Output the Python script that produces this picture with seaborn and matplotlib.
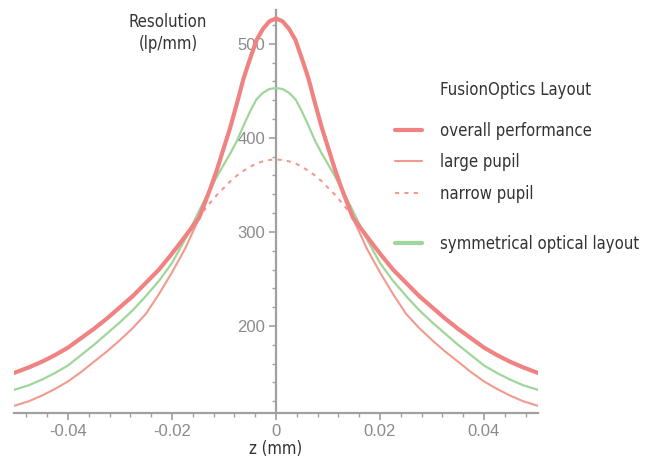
import matplotlib
matplotlib.use("Agg")
import matplotlib.pyplot as plt
import seaborn as sns
import pandas as pd
from matplotlib.lines import Line2D
from matplotlib.ticker import MultipleLocator, FuncFormatter

# values, right half (curves are symmetric about z = 0)
z_half = [0.0, 0.00125, 0.0025, 0.00375, 0.005, 0.00625, 0.0075, 0.00875, 0.01, 0.01125,
          0.0125, 0.01375, 0.015, 0.0175, 0.02, 0.0225, 0.025, 0.0275, 0.03, 0.0325,
          0.035, 0.0375, 0.04, 0.0425, 0.045, 0.0475, 0.0504]
large_pupil = [527, 524, 516, 504, 484, 463, 437, 412, 390, 368,
               348, 330, 312, 282, 257, 234, 213, 198, 185, 173,
               162, 151, 141, 133, 126, 120, 115]
narrow_pupil = [377, 376.5, 375, 373, 369, 365, 360, 354, 347, 340,
                332, 323.5, 314, 295, 277, 260, 246, 232, 220, 208,
                197, 187, 177, 169, 162, 156, 150]
symmetrical = [453, 452, 448, 441, 428, 413, 397, 384, 372, 360,
               347, 334, 320, 292, 267, 248, 232, 217, 204, 192,
               180, 169, 158, 150, 143, 137, 132]

overall_z_half = [0.0, 0.00125, 0.0025, 0.00375, 0.005, 0.00625, 0.0075, 0.00875, 0.01, 0.01125,
                  0.0125, 0.01375, 0.0148, 0.0175, 0.02, 0.0225, 0.025, 0.0275, 0.03, 0.0325,
                  0.035, 0.0375, 0.04, 0.0425, 0.045, 0.0475, 0.0504]
overall = [527, 524, 516, 504, 484, 463, 437, 412, 390, 368,
           348, 330, 315, 295, 277, 260, 246, 232, 220, 208,
           197, 187, 177, 169, 162, 156, 150]

labels = ["overall performance", "large pupil", "narrow pupil", "symmetrical optical layout"]

RED = "#f08282"
RED_THIN = "#f29a8e"
GREEN = "#9fd699"
FONT = ["DejaVu Sans"]
TXT = dict(family=FONT, fontstretch="condensed", fontsize=12, color="#333333")


def mirror(zh, vh):
    z = [-v for v in zh[::-1]] + list(zh[1:])
    vals = list(vh[::-1]) + list(vh[1:])
    return pd.DataFrame({"z": z, "res": vals})


sns.set_theme(style="white")
plt.rcParams["axes.unicode_minus"] = False

fig = plt.figure(figsize=(6.54, 4.57), dpi=100)
ax = fig.add_axes([14 / 654, 44 / 457, 524 / 654, 403 / 457])

sns.lineplot(data=mirror(z_half, narrow_pupil), x="z", y="res", ax=ax, color=RED_THIN,
             linewidth=1.5, linestyle=(0, (2, 2.5)), zorder=2)
sns.lineplot(data=mirror(z_half, large_pupil), x="z", y="res", ax=ax, color=RED_THIN,
             linewidth=1.5, zorder=3)
sns.lineplot(data=mirror(z_half, symmetrical), x="z", y="res", ax=ax, color=GREEN,
             linewidth=1.6, zorder=4)
sns.lineplot(data=mirror(overall_z_half, overall), x="z", y="res", ax=ax, color=RED,
             linewidth=3.0, zorder=5)

ax.set_xlim(-0.0504, 0.0504)
ax.set_ylim(107.4, 536)

for side in ["top", "right"]:
    ax.spines[side].set_visible(False)
ax.spines["left"].set_position(("data", 0))
for side in ["left", "bottom"]:
    ax.spines[side].set_color("#a0a0a0")
    ax.spines[side].set_linewidth(1.6)

ax.xaxis.set_major_locator(MultipleLocator(0.02))
ax.xaxis.set_minor_locator(MultipleLocator(0.004))
ax.xaxis.set_major_formatter(FuncFormatter(lambda v, p: f"{round(v, 4) + 0:g}"))
ax.yaxis.set_major_locator(MultipleLocator(100))
ax.yaxis.set_minor_locator(MultipleLocator(20))

ax.tick_params(which="both", direction="out", color="#a0a0a0", labelcolor="#8a8a8a",
               bottom=True, left=True)
ax.tick_params(which="major", length=5, width=1.2, labelsize=12, pad=3)
ax.tick_params(which="minor", length=3, width=1)
for lab in ax.get_xticklabels() + ax.get_yticklabels():
    lab.set_family(["Liberation Sans", "DejaVu Sans"])

ax.set_xlabel("z (mm)", labelpad=1, **TXT)
ax.set_ylabel("Resolution\n(lp/mm)", rotation=0, ha="center", va="center",
              linespacing=1.35, **TXT)
ax.yaxis.set_label_coords(0.294, 0.943)

handles = [
    Line2D([], [], color=RED, linewidth=3.0),
    Line2D([], [], color=RED_THIN, linewidth=1.5),
    Line2D([], [], color=RED_THIN, linewidth=1.5, linestyle=(0, (2, 2.5))),
    Line2D([], [], color=GREEN, linewidth=3.0),
]
leg_kw = dict(loc="upper left", frameon=False, borderpad=0, borderaxespad=0,
              handlelength=1.6, handletextpad=1.08, labelspacing=0.8,
              prop={"family": FONT, "stretch": "condensed", "size": 12})
leg1 = fig.legend(handles[:3], labels[:3], bbox_to_anchor=(395 / 654, 1 - 122 / 457), **leg_kw)
leg2 = fig.legend(handles[3:], labels[3:], bbox_to_anchor=(395 / 654, 1 - 235 / 457), **leg_kw)
for leg in (leg1, leg2):
    for t in leg.get_texts():
        t.set_color("#333333")

fig.text(440 / 654, 1 - 90 / 457, "FusionOptics Layout", ha="left", va="center", **TXT)

fig.savefig("out.png", dpi=100)
